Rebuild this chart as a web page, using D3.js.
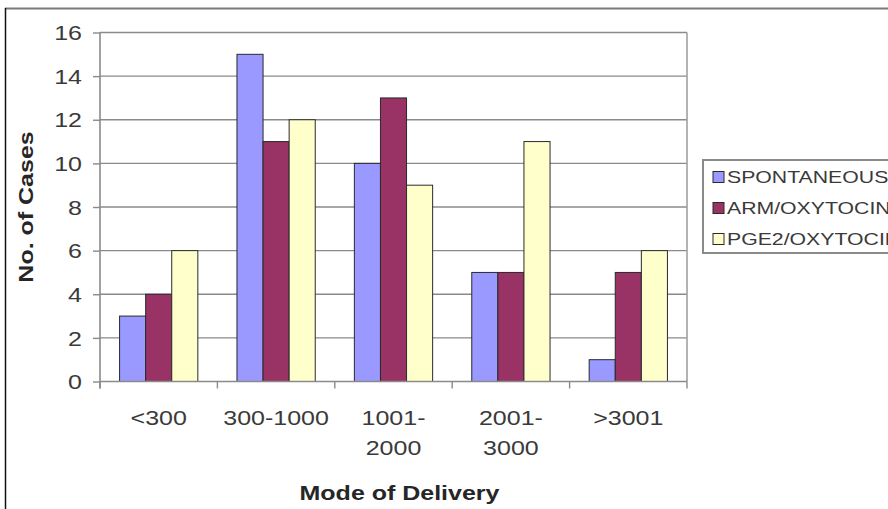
<!DOCTYPE html>
<html>
<head>
<meta charset="utf-8">
<script src="https://cdn.jsdelivr.net/npm/d3@7"></script>
<style>
  html, body { margin: 0; padding: 0; background: #fff; }
  svg { display: block; }
</style>
</head>
<body>
<svg id="chart" width="888" height="509"></svg>
<script>
// Birth-weight groups (g) and the number of cases by mode of delivery
const categories = ["<300", "300-1000", "1001-2000", "2001-3000", ">3001"];
const categoryLines = [["<300"], ["300-1000"], ["1001-", "2000"], ["2001-", "3000"], [">3001"]];
const seriesNames = ["SPONTANEOUS", "ARM/OXYTOCIN", "PGE2/OXYTOCIN"];
const spontaneous = [3, 15, 10, 5, 1];
const armOxytocin = [4, 11, 13, 5, 5];
const pge2Oxytocin = [6, 12, 9, 11, 6];
const yTicks = [0, 2, 4, 6, 8, 10, 12, 14, 16];
const seriesColors = ["#9999ff", "#993366", "#ffffcc"];

const seriesValues = [spontaneous, armOxytocin, pge2Oxytocin];
const stretch = 1.25;           // the chart's lettering runs wide
const fontFamily = "'Liberation Sans', Arial, sans-serif";

const svg = d3.select("#chart");
const plot = { left: 100, right: 687, top: 32.5, bottom: 381.5 };

const x0 = d3.scaleBand().domain(categories).range([plot.left, plot.right]).padding(0);
const x1 = d3.scaleBand().domain(seriesNames).range([0, x0.bandwidth()])
  .paddingInner(0).paddingOuter(0.75);
const y = d3.scaleLinear().domain([0, 16]).range([plot.bottom, plot.top]);
const color = d3.scaleOrdinal().domain(seriesNames).range(seriesColors);

// chart-area frame
svg.append("line").attr("x1", 5).attr("x2", 888).attr("y1", 8.5).attr("y2", 8.5)
  .attr("stroke", "#7a7a7a").attr("stroke-width", 2);
svg.append("line").attr("x1", 5.5).attr("x2", 5.5).attr("y1", 8).attr("y2", 509)
  .attr("stroke", "#111").attr("stroke-width", 1.5);

// horizontal gridlines
svg.append("g").selectAll("line").data(yTicks.filter(d => d > 0)).join("line")
  .attr("x1", plot.left).attr("x2", plot.right)
  .attr("y1", d => y(d)).attr("y2", d => y(d))
  .attr("stroke", "#8a8a8a").attr("stroke-width", 1.4);

// right edge of the plot area
svg.append("line").attr("x1", plot.right).attr("x2", plot.right)
  .attr("y1", plot.top).attr("y2", plot.bottom)
  .attr("stroke", "#a0a0a0").attr("stroke-width", 1.6);

// bars
const groups = svg.append("g").selectAll("g").data(categories).join("g")
  .attr("transform", d => `translate(${x0(d)},0)`);
groups.selectAll("rect")
  .data((c, i) => seriesNames.map((s, k) => ({ s, v: seriesValues[k][i] })))
  .join("rect")
  .attr("x", d => x1(d.s))
  .attr("y", d => y(d.v))
  .attr("width", x1.bandwidth())
  .attr("height", d => y(0) - y(d.v))
  .attr("fill", d => color(d.s))
  .attr("stroke", "#2a2a2a").attr("stroke-width", 1);

// y axis
const yAxis = svg.append("g").attr("transform", `translate(${plot.left},0)`)
  .call(d3.axisLeft(y).tickValues(yTicks).tickSize(7).tickFormat(d3.format("d")));
yAxis.select(".domain").attr("stroke", "#8a8a8a").attr("stroke-width", 1.6)
  .attr("d", `M0,${plot.top}V${plot.bottom + 7}`);
yAxis.selectAll(".tick line").attr("stroke", "#8a8a8a").attr("stroke-width", 1.4);
yAxis.selectAll(".tick text")
  .attr("x", -18 / stretch).attr("dy", "0.36em")
  .attr("transform", `scale(${stretch},1)`)
  .attr("fill", "#3a3a3a").attr("font-size", 20).attr("font-family", fontFamily);

// x axis: labels centred in each group, tick marks on the group boundaries
const xAxis = svg.append("g").attr("transform", `translate(0,${plot.bottom})`)
  .call(d3.axisBottom(x0).tickSize(0).tickPadding(0));
xAxis.select(".domain").remove();
svg.append("line").attr("x1", plot.left).attr("x2", plot.right)
  .attr("y1", plot.bottom).attr("y2", plot.bottom)
  .attr("stroke", "#8a8a8a").attr("stroke-width", 1.6);
const bounds = categories.map(c => x0(c)).concat([x0(categories[categories.length - 1]) + x0.bandwidth()]);
svg.append("g").selectAll("line").data(bounds).join("line")
  .attr("x1", d => d).attr("x2", d => d)
  .attr("y1", plot.bottom).attr("y2", plot.bottom + 7)
  .attr("stroke", "#8a8a8a").attr("stroke-width", 1.4);
xAxis.selectAll(".tick text").each(function (d, i) {
  const t = d3.select(this).text(null)
    .attr("y", 0).attr("dy", null)
    .attr("transform", `scale(${stretch},1)`)
    .attr("fill", "#3a3a3a").attr("font-size", 20).attr("font-family", fontFamily);
  categoryLines[i].forEach((line, j) => {
    t.append("tspan").attr("x", 0).attr("y", 44 + j * 30).text(line);
  });
});

// axis titles
svg.append("text")
  .attr("transform", `translate(${(plot.left + plot.right) / 2 + 6},500) scale(${stretch},1)`)
  .attr("text-anchor", "middle")
  .attr("font-family", fontFamily).attr("font-size", 20).attr("font-weight", "bold")
  .attr("fill", "#262626").text("Mode of Delivery");
svg.append("text")
  .attr("transform", `translate(33,207) rotate(-90) scale(${stretch},1)`)
  .attr("text-anchor", "middle")
  .attr("font-family", fontFamily).attr("font-size", 20).attr("font-weight", "bold")
  .attr("fill", "#262626").text("No. of Cases");

// legend
const legend = svg.append("g");
legend.append("rect").attr("x", 703).attr("y", 160).attr("width", 260).attr("height", 93)
  .attr("fill", "#fff").attr("stroke", "#8a8a8a").attr("stroke-width", 2);
const items = legend.selectAll("g").data(seriesNames).join("g")
  .attr("transform", (d, i) => `translate(713,${177 + i * 31})`);
items.append("rect").attr("x", 0).attr("y", -5.5).attr("width", 11).attr("height", 11)
  .attr("fill", d => color(d)).attr("stroke", "#2a2a2a").attr("stroke-width", 1);
items.append("text")
  .attr("transform", `translate(14,0) scale(${stretch},1)`)
  .attr("dy", "0.36em")
  .attr("font-family", fontFamily).attr("font-size", 17)
  .attr("fill", "#3a3a3a").text(d => d);
</script>
</body>
</html>
